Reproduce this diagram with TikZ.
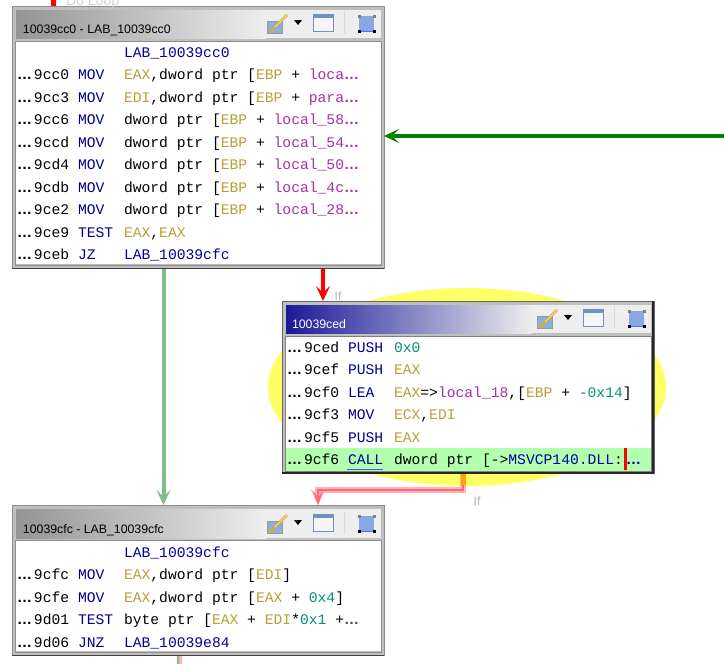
\documentclass[tikz,border=0pt]{standalone}
\usepackage{fontspec}
\setmainfont{Liberation Sans}
\newfontfamily\asmfont{Liberation Mono}
\newfontfamily\dotfont{Liberation Sans}[BoldFont={Liberation Sans Bold}]
\usetikzlibrary{arrows.meta,calc}
\definecolor{mnc}{HTML}{000090}
\definecolor{regc}{HTML}{B8A038}
\definecolor{locc}{HTML}{A830A8}
\definecolor{numc}{HTML}{009078}
\definecolor{labc}{HTML}{0000A0}
\definecolor{ginc}{HTML}{008000}
\definecolor{palegreen}{HTML}{80BC88}
\definecolor{palered}{HTML}{FFB0B8}
\definecolor{corered}{HTML}{FF6878}
\definecolor{rowgreen}{HTML}{B2FFAE}
\definecolor{ellc}{HTML}{FFFF66}
\definecolor{barend}{HTML}{EEEEEE}
\definecolor{iconblue}{HTML}{88A8E4}
\definecolor{brushbox}{HTML}{88B0D8}
\definecolor{brushgold}{HTML}{E0A838}
\definecolor{brushlite}{HTML}{F8E090}
\definecolor{winbar}{HTML}{7090C4}
\newcommand{\rg}[1]{\textcolor{regc}{#1}}
\newcommand{\lc}[1]{\textcolor{locc}{#1}}
\newcommand{\nm}[1]{\textcolor{numc}{#1}}
\newcommand{\lb}[1]{\textcolor{labc}{#1}}
\newcommand{\dd}[1][locc]{\textcolor{#1}{\dotfont\bfseries\fontsize{15}{15}\selectfont …}}
\newcounter{nn}
\newcommand{\asmrow}[4]{% row y, addr, mnemonic, operands
  \stepcounter{nn}%
  \node[asmtext] (d\thenn) at (5,#1) {\dd[black]};
  \node[asmtext] (a\thenn) at (22,#1) {#2};
  \node[asmtext,text=mnc] (m\thenn) at (66,#1) {#3};
  \node[asmtext] (o\thenn) at (112,#1) {#4};
}
\newcommand{\icons}{%
  \fill[brushbox] (255,15) rectangle (270,27);
  \draw[black!40,line width=.5pt] (255,15) rectangle (270,27);
  \draw[brushgold,line width=2.6pt] (258,26) -- (275,9);
  \draw[brushlite,line width=1pt] (263,21) -- (275,9);
  \fill[black] (282,14) -- (290,14) -- (286,19) -- cycle;
  \draw[winbar,fill=barend!60!white,line width=.9pt] (301,8.5) rectangle (321,25);
  \fill[winbar] (301,8.5) rectangle (321,11.5);
  \draw[black!15,line width=.8pt] (332,6) -- (332,28);
  \fill[iconblue] (347,10) rectangle (362,25);
  \draw[blue!60,line width=.8pt] (347,25) -- (362,25);
  \foreach \p in {(347,10),(362,10)} \fill[gray] \p ++(-1.5,-1.5) rectangle ++(3,3);
  \foreach \p in {(347,25),(362,25)} \fill[black] \p ++(-1.5,-1.5) rectangle ++(3,3);
}
\tikzset{
  x=1pt,y=-1pt,
  blockbox/.style={draw=black!45,fill=black!25,line width=1pt,inner sep=0pt,outer sep=0pt,anchor=north west},
  asmtext/.style={anchor=base west,inner sep=0pt,outer sep=0pt,font=\asmfont\fontsize{14.67}{16}\selectfont},
  titletext/.style={anchor=base west,inner sep=0pt,outer sep=0pt,font=\fontsize{12.3}{14}\selectfont},
  edgeline/.style={line width=4pt,-{Stealth[length=15pt,width=14pt,inset=7pt]}},
  flowlabel/.style={inner sep=0pt,text=black!30,font=\fontsize{12}{14}\selectfont}
}
\begin{document}
\begin{tikzpicture}
\clip (0,0) rectangle (724,664);
\fill[white] (0,0) rectangle (724,664);
% highlight
\fill[ellc] (467,387) ellipse [x radius=199pt,y radius=99pt];

% block frames first (named, so the connectors can use them)
\node[blockbox,minimum width=372pt,minimum height=262pt] (b1) at (12,6) {};
\node[blockbox,minimum width=372pt,minimum height=172pt,draw=black!60] (b2) at (282,301) {};
\node[blockbox,minimum width=372pt,minimum height=150pt] (b3) at (12,505) {};

% connectors
\coordinate (topin) at (53.5,0);
\draw[red,line width=5pt] (topin) -- (topin |- b1.north);
\node[flowlabel,anchor=base west,text=black!18,font=\fontsize{14}{16}\selectfont] (doloop) at (66,5) {Do Loop};
\coordinate (farright) at (724,136);
\draw[edgeline,ginc] (farright) -- (farright -| b1.east);
\draw[edgeline,palegreen] ($(b1.south west)+(151.5,0)$) -- ($(b3.north west)+(151.5,0)$);
\draw[edgeline,red] ($(b1.south west)+(311,0)$) -- ($(b2.north west)+(41,0)$);
\node[flowlabel] (lf1) at (338,296) {If};
\draw[line width=5.5pt,palered,-{Stealth[length=16pt,width=15pt,inset=7pt]}]
  ($(b2.south west)+(181,0)$) |- (318,490) -- ($(b3.north west)+(306,0)$);
\draw[line width=2.5pt,corered,-{Stealth[length=14pt,width=10pt,inset=7pt]}]
  ($(b2.south west)+(181,0)$) |- (318,490) -- ($(b3.north west)+(306,0)$);
\fill[orange!70!yellow] (460.5,473) rectangle (465.5,485);
\node[flowlabel] (lf2) at (477,501) {If};
\coordinate (botout) at (179,664);
\fill[palegreen] ($(b3.south west)+(164.5,0)$) rectangle (179,664);
\fill[palered] (179,655) rectangle (182,664);

% block 1
\begin{scope}[shift={(12,6)}]
  \shade[left color=black!42,right color=barend] (4,4) rectangle (254,32);
  \fill[barend] (254,4) rectangle (369,32);
  \fill[white] (3,35) rectangle (369,258);
  \draw[black!45,line width=.8pt] (3,35) rectangle (369,259);
  \draw[black!75,line width=1pt] (0,262) -- (372,262);
  \node[titletext] (t1) at (11,27) {10039cc0 - LAB\_10039cc0};
  \icons
  \node[asmtext] (l1) at (112,51) {\lb{LAB\_10039cc0}};
  \asmrow{73.5}{9cc0}{MOV}{\rg{EAX},dword ptr [\rg{EBP} + \lc{loca}\dd}
  \asmrow{96}{9cc3}{MOV}{\rg{EDI},dword ptr [\rg{EBP} + \lc{para}\dd}
  \asmrow{118}{9cc6}{MOV}{dword ptr [\rg{EBP} + \lc{local\_58}\dd}
  \asmrow{141}{9ccd}{MOV}{dword ptr [\rg{EBP} + \lc{local\_54}\dd}
  \asmrow{163.5}{9cd4}{MOV}{dword ptr [\rg{EBP} + \lc{local\_50}\dd}
  \asmrow{186}{9cdb}{MOV}{dword ptr [\rg{EBP} + \lc{local\_4c}\dd}
  \asmrow{208}{9ce2}{MOV}{dword ptr [\rg{EBP} + \lc{local\_28}\dd}
  \asmrow{231}{9ce9}{TEST}{\rg{EAX},\rg{EAX}}
  \asmrow{253}{9ceb}{JZ}{\lb{LAB\_10039cfc}}
\end{scope}

% block 2
\begin{scope}[shift={(282,301)}]
  \shade[left color=blue!55!black!90,right color=barend] (4,4) rectangle (250,32);
  \fill[barend] (250,4) rectangle (369,32);
  \fill[white] (3,35) rectangle (369,170);
  \fill[rowgreen] (3,147) rectangle (369,170);
  \draw[black!50,line width=.8pt] (3,35) rectangle (369,170);
  \draw[black!85,line width=1.4pt] (371,0) -- (371,172) -- (0,172);
  \node[titletext,text=white] (t2) at (10,27) {10039ced};
  \icons
  \asmrow{51}{9ced}{PUSH}{\nm{0x0}}
  \asmrow{73}{9cef}{PUSH}{\rg{EAX}}
  \asmrow{96}{9cf0}{LEA}{\rg{EAX}=>\lc{local\_18},[\rg{EBP} + \nm{-0x14}]}
  \asmrow{118}{9cf3}{MOV}{\rg{ECX},\rg{EDI}}
  \asmrow{141}{9cf5}{PUSH}{\rg{EAX}}
  \asmrow{163}{9cf6}{CALL}{dword ptr [->\lb{MSVCP140.DLL}:}
  \draw[blue!70,line width=.8pt] (65,168) -- (101,168);
  \fill[red] (342,147) rectangle (345,169);
  \node[asmtext] (o2x) at (344,163) {\dd[mnc]};
\end{scope}

% block 3
\begin{scope}[shift={(12,505)}]
  \shade[left color=black!42,right color=barend] (4,4) rectangle (254,33);
  \fill[barend] (254,4) rectangle (369,33);
  \fill[white] (3,35) rectangle (369,146);
  \draw[black!45,line width=.8pt] (3,35) rectangle (369,147);
  \draw[black!75,line width=1pt] (0,150) -- (372,150);
  \node[titletext] (t3) at (11,28) {10039cfc - LAB\_10039cfc};
  \begin{scope}[shift={(0,1)}]\icons\end{scope}
  \node[asmtext] (l3) at (112,52) {\lb{LAB\_10039cfc}};
  \asmrow{74}{9cfc}{MOV}{\rg{EAX},dword ptr [\rg{EDI}]}
  \asmrow{97}{9cfe}{MOV}{\rg{EAX},dword ptr [\rg{EAX} + \nm{0x4}]}
  \asmrow{119.5}{9d01}{TEST}{byte ptr [\rg{EAX} + \rg{EDI}*\nm{0x1} +\dd[black!70]}
  \asmrow{142}{9d06}{JNZ}{\lb{LAB\_10039e84}}
\end{scope}
\end{tikzpicture}
\end{document}
